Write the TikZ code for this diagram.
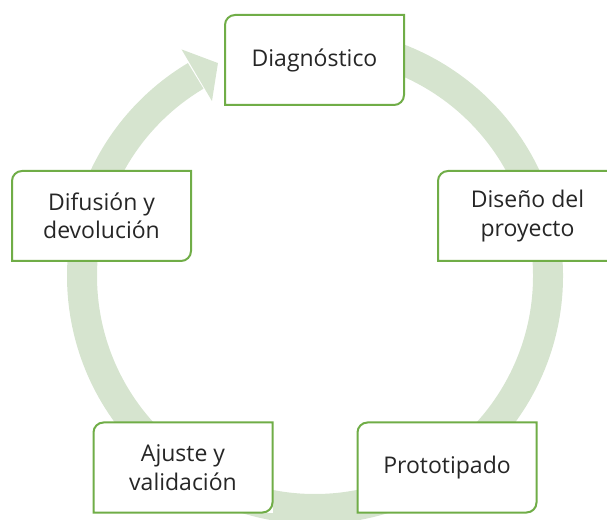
\documentclass[tikz,border=0pt]{standalone}
\usepackage{fontspec}
\setmainfont{Open Sans}
\definecolor{framegreen}{RGB}{112,173,71}
\definecolor{ringgreen}{RGB}{214,228,207}
\definecolor{textgray}{RGB}{38,38,38}
\tikzset{
  stepbox/.style={fill=white, minimum width=179pt, minimum height=90pt,
    inner sep=0pt, outer sep=0pt, align=center, text=textgray,
    font=\fontsize{23}{28.5}\selectfont},
  frame/.style={draw=framegreen, line width=2pt},
}
% box outline: rounded top-left and bottom-right corners only
\newcommand{\stepframe}[1]{%
  \draw[frame] (#1.south west) -- ([yshift=-10pt]#1.north west)
    arc[start angle=180, end angle=90, radius=10pt] -- (#1.north east)
    -- ([yshift=10pt]#1.south east)
    arc[start angle=0, end angle=-90, radius=10pt] -- cycle;}

\begin{document}
\begin{tikzpicture}[x=1pt, y=1pt]
    \clip (0,0) rectangle (607,519);
    \coordinate (c) at (315,243);
    % cycle ring
    \draw[ringgreen, line width=30pt] ([shift={(95:233)}]c) arc[start angle=95, end angle=-239.2, radius=233];
    % arrow head at the end of the ring
    \fill[ringgreen] ([shift={(120.5:263)}]c) -- ([shift={(114.5:234)}]c) -- ([shift={(120.5:203)}]c) -- cycle;
    % steps
    \node[stepbox] (diag) at (314.5,459) {Diagnóstico};
    \node[stepbox] (diseno) at (527.5,303) {Diseño del\\proyecto};
    \node[stepbox] (proto) at (447,51.5) {Prototipado};
    \node[stepbox] (ajuste) at (183,51.5) {Ajuste y\\validación};
    \node[stepbox] (difus) at (101.5,303) {Difusión y\\devolución};
    % frames
    \stepframe{diag}
    \stepframe{diseno}
    \stepframe{proto}
    \stepframe{ajuste}
    \stepframe{difus}
\end{tikzpicture}
\end{document}
